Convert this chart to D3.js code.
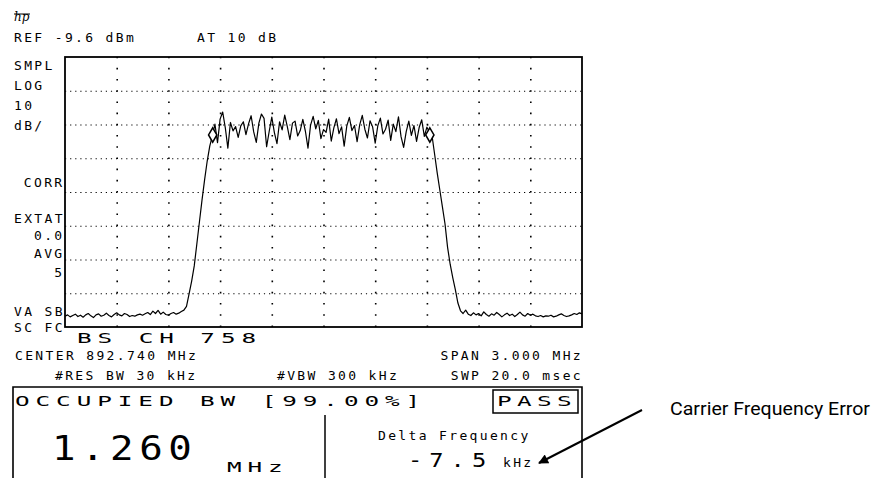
<!DOCTYPE html>
<html>
<head>
<meta charset="utf-8">
<script src="https://cdn.jsdelivr.net/npm/d3@7"></script>
<style>
  body { margin: 0; background: #fff; }
  svg { display: block; }
  .scr { font-family: "DejaVu Sans Mono", monospace; fill: #000; }
</style>
</head>
<body>
<div id="container"></div>
<script>
// instrument settings
let refLevel = -9.6, dbPerDiv = 10, yDivs = 8, xDivs = 10;
let centerMHz = 892.740, spanMHz = 3.000;

// swept trace, dBm, 201 points across the span
let traceDbm = [
  -86.4,-86.0,-86.6,-86.2,-85.8,-86.5,-86.1,-86.7,-86.0,-85.6,
  -86.3,-86.8,-86.0,-85.7,-86.4,-86.1,-85.5,-86.2,-86.6,-85.9,
  -85.4,-86.0,-86.3,-85.6,-85.9,-86.5,-86.2,-86.4,-86.0,-85.8,
  -86.1,-85.7,-85.3,-85.9,-84.9,-85.6,-84.7,-85.8,-85.2,-85.9,
  -86.1,-85.6,-85.3,-85.8,-85.5,-85.0,-84.6,
  -83.5,-79.8,-76.0,-71.5,-65.0,-58.5,-52.0,-46.0,-40.5,-36.0,-33.0,
  -29.5,-35.0,-28.0,-25.9,-30.5,-36.6,-29.0,-31.5,-30.2,-33.4,
  -30.0,-28.8,-32.6,-29.4,-27.0,-31.8,-34.9,-29.2,-26.5,-27.8,
  -36.2,-31.6,-27.4,-32.0,-35.3,-28.8,-31.2,-26.8,-30.2,-34.1,
  -29.2,-28.6,-33.0,-31.4,-28.1,-31.6,-36.6,-29.8,-27.2,-30.9,
  -28.4,-33.8,-31.1,-31.9,-28.0,-34.5,-30.6,-27.9,-32.3,-30.3,
  -36.0,-30.1,-27.5,-31.4,-29.9,-34.7,-29.7,-26.9,-31.0,-33.6,
  -28.5,-30.3,-35.1,-30.0,-27.7,-32.4,-31.0,-28.3,-34.3,-29.5,
  -31.7,-27.3,-33.2,-36.4,-31.7,-28.6,-32.8,-29.9,-34.6,-30.5,
  -28.2,-33.1,-30.4,-31.8,
  -33.0,-38.5,-44.0,-49.0,-54.0,-59.0,-66.0,-71.0,-75.0,-78.5,-82.5,-84.8,-85.6,
  -84.6,-85.8,-86.2,-85.4,-86.0,-85.6,-86.3,-85.1,-85.9,-86.4,
  -85.7,-86.1,-85.3,-85.9,-86.6,-86.0,-85.5,-86.2,-85.8,-86.5,
  -85.9,-85.2,-86.0,-86.4,-85.6,-86.1,-85.8,-86.3,-86.5,-86.2,
  -86.6,-86.3,-86.4,-86.1,-86.6,-86.4,-86.0,-85.7,-86.2,-86.5,
  -86.3,-86.0,-85.6,-85.9,-85.4,-85.7
];

// occupied bandwidth markers
let markerMHz = [892.097, 893.357];
let markerDbm = [-32.7, -32.7];

// screen annotations
let leftLabels = [
  {t: "SMPL", y: 70}, {t: "LOG", y: 90}, {t: "10", y: 110}, {t: "dB/", y: 130},
  {t: "CORR", y: 187, end: true}, {t: "EXTAT", y: 223}, {t: "0.0", y: 240, end: true},
  {t: "AVG", y: 258, end: true}, {t: "5", y: 277, end: true},
  {t: "VA SB", y: 316}, {t: "SC FC", y: 332}
];

let margin = {top: 57, left: 65};
let width = 517, height = 270;

let svg = d3.select("#container").append("svg")
    .attr("width", 885)
    .attr("height", 478);

let x = d3.scaleLinear()
    .domain([centerMHz - spanMHz / 2, centerMHz + spanMHz / 2])
    .range([0, width]);

let y = d3.scaleLinear()
    .domain([refLevel - dbPerDiv * yDivs, refLevel])
    .range([height, 0]);

let plot = svg.append("g")
    .attr("transform", "translate(" + margin.left + "," + margin.top + ")");

// graticule
let xGrid = d3.range(1, xDivs).map(function(i) { return x.domain()[0] + i * spanMHz / xDivs; });
let yGrid = d3.range(1, yDivs).map(function(i) { return refLevel - i * dbPerDiv; });

plot.append("g")
    .attr("transform", "translate(0," + height + ")")
    .call(d3.axisBottom(x).tickValues(xGrid).tickSize(-height).tickFormat(""))
    .call(function(g) { g.select(".domain").remove(); })
    .selectAll("line")
    .attr("stroke", "#000")
    .attr("stroke-width", 1.6)
    .attr("stroke-dasharray", "1.6,9.6");

plot.append("g")
    .call(d3.axisLeft(y).tickValues(yGrid).tickSize(-width).tickFormat(""))
    .call(function(g) { g.select(".domain").remove(); })
    .selectAll("line")
    .attr("stroke", "#000")
    .attr("stroke-width", 1.2)
    .attr("stroke-dasharray", "1.2,3.9");

plot.append("rect")
    .attr("width", width)
    .attr("height", height)
    .attr("fill", "none")
    .attr("stroke", "#000")
    .attr("stroke-width", 1.8);

// trace
let step = spanMHz / (traceDbm.length - 1);
let line = d3.line()
    .x(function(d, i) { return x(x.domain()[0] + i * step); })
    .y(function(d) { return y(d); });

plot.append("path")
    .datum(traceDbm)
    .attr("d", line)
    .attr("fill", "none")
    .attr("stroke", "#000")
    .attr("stroke-width", 1.2)
    .attr("stroke-linejoin", "round");

plot.selectAll(".marker")
    .data(markerMHz)
    .enter().append("path")
    .attr("class", "marker")
    .attr("d", d3.symbol().type(d3.symbolDiamond).size(60))
    .attr("transform", function(d, i) { return "translate(" + x(d) + "," + y(markerDbm[i]) + ")"; })
    .attr("fill", "#fff")
    .attr("stroke", "#000")
    .attr("stroke-width", 1.5);

// screen text helpers
function small(t, px, py, anchor) {
    return svg.append("text")
        .attr("class", "scr")
        .attr("x", px)
        .attr("y", py)
        .attr("text-anchor", anchor || "start")
        .style("font-size", "13px")
        .style("letter-spacing", "2.35px")
        .text(t);
}

function wide(t, px, py, fs, sx, ls) {
    return svg.append("text")
        .attr("class", "scr")
        .attr("transform", "translate(" + px + "," + py + ") scale(" + sx + ",1)")
        .style("font-size", fs + "px")
        .style("letter-spacing", ls + "px")
        .text(t);
}

svg.append("text")
    .attr("x", 14).attr("y", 21)
    .style("font-family", "DejaVu Serif, serif")
    .style("font-style", "italic")
    .style("font-size", "12px")
    .text("hp");
svg.append("line")
    .attr("x1", 14).attr("x2", 30).attr("y1", 14).attr("y2", 14)
    .attr("stroke", "#000").attr("stroke-width", 1);

small("REF -9.6 dBm", 14, 42);
small("AT 10 dB", 197, 42);

leftLabels.forEach(function(d) {
    if (d.end) small(d.t, 64.5, d.y, "end");
    else small(d.t, 14, d.y);
});

wide("BS CH 758", 77, 343, 13.5, 1.8, 3.3);
small("CENTER 892.740 MHz", 15, 360);
small("SPAN 3.000 MHz", 583, 360, "end");
small("#RES BW 30 kHz", 55, 380);
small("#VBW 300 kHz", 277, 380);
small("SWP 20.0 msec", 583, 380, "end");

// measurement box
svg.append("path")
    .attr("d", "M13,490 V387 H582 V490")
    .attr("fill", "none")
    .attr("stroke", "#000")
    .attr("stroke-width", 1.6);

wide("OCCUPIED BW [99.00%]", 15, 406, 13.5, 1.8, 3.3);

svg.append("rect")
    .attr("x", 493).attr("y", 390)
    .attr("width", 85).attr("height", 23)
    .attr("fill", "none")
    .attr("stroke", "#000")
    .attr("stroke-width", 1.5);
wide("PASS", 497, 406, 13.5, 1.8, 3.0);

svg.append("line")
    .attr("x1", 325).attr("x2", 325)
    .attr("y1", 415).attr("y2", 478)
    .attr("stroke", "#000").attr("stroke-width", 1.5);

wide("1.260", 52, 460, 34, 1.15, 4.8);
wide("MHz", 227, 472, 13.5, 1.8, 3.3);
small("Delta Frequency", 378, 440);
wide("-7.5", 408, 467, 19, 1.25, 5.6);
small("kHz", 503, 467);

// annotation
svg.append("defs").append("marker")
    .attr("id", "arrow")
    .attr("viewBox", "0 0 10 10")
    .attr("refX", 9).attr("refY", 5)
    .attr("markerWidth", 8).attr("markerHeight", 5)
    .attr("markerUnits", "strokeWidth")
    .attr("orient", "auto")
    .append("path")
    .attr("d", "M0,0 L10,5 L0,10 z")
    .attr("fill", "#000");

svg.append("line")
    .attr("x1", 642).attr("y1", 410)
    .attr("x2", 539).attr("y2", 463)
    .attr("stroke", "#000")
    .attr("stroke-width", 2)
    .attr("marker-end", "url(#arrow)");

svg.append("text")
    .attr("x", 670).attr("y", 415)
    .attr("textLength", 200)
    .attr("lengthAdjust", "spacingAndGlyphs")
    .style("font-family", "'Liberation Sans Narrow', Roboto, sans-serif")
    .style("font-size", "19px")
    .style("fill", "#000")
    .text("Carrier Frequency Error");
</script>
</body>
</html>
